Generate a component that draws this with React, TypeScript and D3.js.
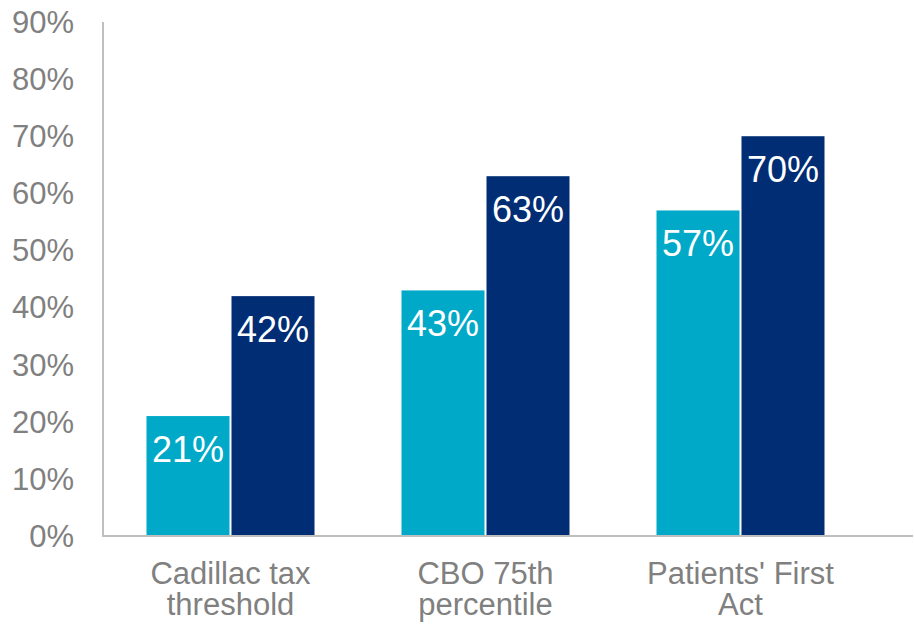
import React from "react";
import * as d3 from "d3";

const categories = [["Cadillac tax", "threshold"], ["CBO 75th", "percentile"], ["Patients' First", "Act"]];
const seriesNames = ["A", "B"];
const seriesA = [0.21, 0.43, 0.57];
const seriesB = [0.42, 0.63, 0.70];
const yTicks = [0, 0.1, 0.2, 0.3, 0.4, 0.5, 0.6, 0.7, 0.8, 0.9];
const colors = ["#00A9C7", "#002D73"];

const W = 914;
const H = 624;
const FONT = "'Liberation Sans', Arial, Helvetica, sans-serif";

export default function App() {
  const catKeys = categories.map((c) => c.join(" "));
  const y = d3.scaleLinear().domain([0, 0.9]).range([536, 22]);
  const x0 = d3
    .scaleBand<string>()
    .domain(catKeys)
    .range([103, 868])
    .paddingInner(87 / 255)
    .paddingOuter(87 / 255 / 2);
  const x1 = d3
    .scaleBand<string>()
    .domain(seriesNames)
    .range([0, x0.bandwidth()])
    .paddingInner(2 / 85);
  const series = [seriesA, seriesB];
  const fmt = d3.format(".0%");

  return (
    <svg
      width={W}
      height={H}
      style={{ position: "absolute", left: 0, top: 0, display: "block", background: "#fff" }}
      fontFamily={FONT}
    >
      {yTicks.map((t) => (
        <text
          key={t}
          x={74}
          y={y(t)}
          dy="0.35em"
          textAnchor="end"
          fontSize={31}
          fill="#808080"
        >
          {fmt(t)}
        </text>
      ))}
      {series.map((vals, si) =>
        vals.map((v, ci) => {
          const bx = (x0(catKeys[ci]) ?? 0) + (x1(seriesNames[si]) ?? 0);
          return (
            <g key={`${si}-${ci}`}>
              <rect
                x={bx}
                y={y(v)}
                width={x1.bandwidth()}
                height={y(0) - y(v)}
                fill={colors[si]}
              />
              <text
                x={bx + x1.bandwidth() / 2}
                y={y(v) + 46}
                textAnchor="middle"
                fontSize={36}
                fill="#ffffff"
              >
                {fmt(v)}
              </text>
            </g>
          );
        })
      )}
      <line x1={103} x2={103} y1={22} y2={536} stroke="#BFBFBF" strokeWidth={2} />
      <line x1={102} x2={913} y1={536} y2={536} stroke="#BFBFBF" strokeWidth={2} />
      {categories.map((lines, ci) => (
        <text
          key={ci}
          x={(x0(catKeys[ci]) ?? 0) + x0.bandwidth() / 2}
          textAnchor="middle"
          fontSize={31}
          fill="#808080"
        >
          {lines.map((l, li) => (
            <tspan key={li} x={(x0(catKeys[ci]) ?? 0) + x0.bandwidth() / 2} y={584 + li * 31}>
              {l}
            </tspan>
          ))}
        </text>
      ))}
    </svg>
  );
}
